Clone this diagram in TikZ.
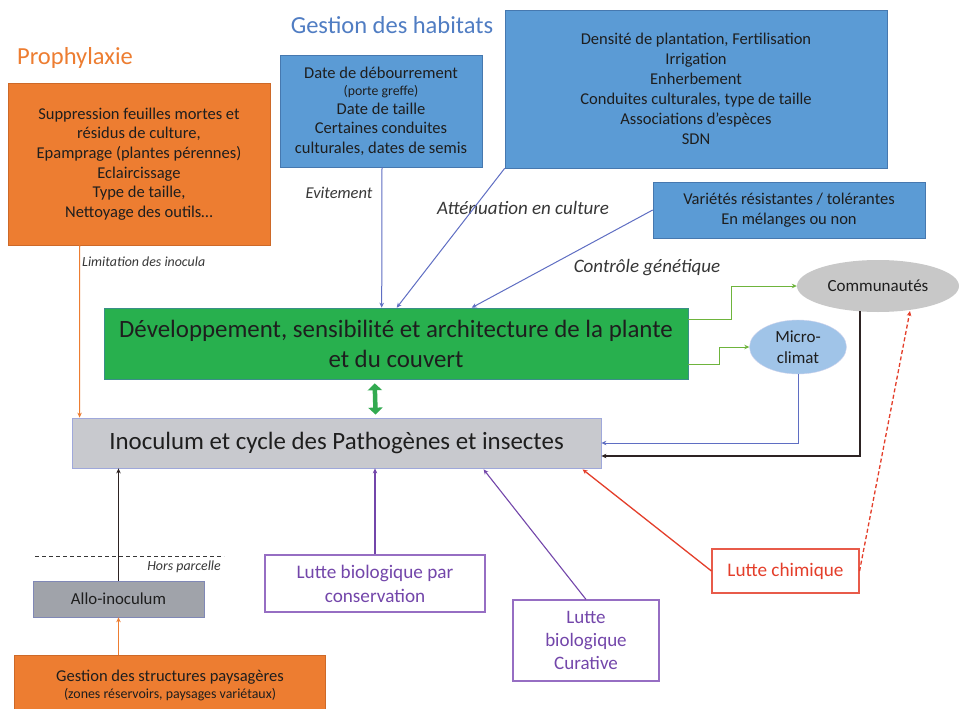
\documentclass[tikz,border=0pt]{standalone}
\usepackage{fontspec}
\setmainfont{Carlito}
\usetikzlibrary{arrows.meta,shapes.geometric,calc}
\definecolor{orng}{RGB}{237,125,49}
\definecolor{orngd}{RGB}{205,105,40}
\definecolor{bluebox}{RGB}{91,155,213}
\definecolor{blueborder}{RGB}{70,120,175}
\definecolor{bluetitle}{RGB}{80,125,195}
\definecolor{greenbox}{RGB}{40,176,78}
\definecolor{greenarr}{RGB}{110,180,60}
\definecolor{greendbl}{RGB}{50,170,80}
\definecolor{greyino}{RGB}{200,201,206}
\definecolor{greyallo}{RGB}{160,163,170}
\definecolor{greycomm}{RGB}{200,200,200}
\definecolor{microblue}{RGB}{160,196,232}
\definecolor{arrblue}{RGB}{95,110,195}
\definecolor{purp}{RGB}{115,70,170}
\definecolor{purpbox}{RGB}{150,110,195}
\definecolor{redc}{RGB}{228,62,42}
\definecolor{txtd}{RGB}{30,30,30}
\definecolor{txtl}{RGB}{55,55,55}
\definecolor{blk}{RGB}{45,35,35}
\tikzset{
  base/.style={rectangle, inner sep=0pt, align=center, text=txtd},
  obox/.style={base, fill=orng, draw=orngd, line width=0.6pt},
  bbox/.style={base, fill=bluebox, draw=blueborder, line width=0.6pt},
  pbox/.style={base, fill=white, draw=purpbox, line width=1.1pt, text=purp},
  rbox/.style={base, fill=white, draw=redc!85, line width=1.1pt, text=redc},
  lab/.style={inner sep=0pt, text=txtl, font=\itshape\fontsize{19}{22}\selectfont},
  smalllab/.style={inner sep=0pt, text=txtl, font=\itshape\fontsize{13.9}{16}\selectfont},
  tip/.style={-{Stealth[length=5pt,width=4.5pt]}},
  blarr/.style={tip, draw=arrblue, line width=1pt},
  grarr/.style={tip, draw=greenarr, line width=1pt},
  bkarr/.style={tip, draw=blk, line width=1.2pt},
  orarr/.style={tip, draw=orng, line width=1.1pt},
  parr/.style={tip, draw=purp, line width=1.1pt},
  rarr/.style={tip, draw=redc, line width=1.3pt},
}
\begin{document}
\begin{tikzpicture}[x=1pt,y=-1pt]
\useasboundingbox[fill=white] (0,0) rectangle (959,709);

% titles
\node[inner sep=0pt, text=orng, font=\fontsize{24.5}{28}\selectfont] (tproph) at (75,58) {Prophylaxie};
\node[inner sep=0pt, text=bluetitle, font=\fontsize{24.5}{28}\selectfont] (thab) at (392,25) {Gestion des habitats};

% boxes
\node[obox, minimum width=262, minimum height=162, font=\fontsize{16.5}{19.6}\selectfont] (proph) at (139,164)
  {Suppression feuilles mortes et\\ résidus de culture,\\ Epamprage (plantes pérennes)\\ Eclaircissage\\ Type de taille,\\ Nettoyage des outils…};
\node[bbox, minimum width=202, minimum height=112, font=\fontsize{16.5}{19.5}\selectfont] (date) at (381,111)
  {Date de débourrement\\[-2pt] {\fontsize{13.8}{14}\selectfont (porte greffe)}\\[-1pt] Date de taille\\ Certaines conduites\\ culturales, dates de semis};
\node[bbox, minimum width=382, minimum height=158, font=\fontsize{16.5}{20}\selectfont] (dens) at (696,89)
  {Densité de plantation, Fertilisation\\ Irrigation\\ Enherbement\\ Conduites culturales, type de taille\\ Associations d’espèces\\ SDN};
\node[bbox, minimum width=272, minimum height=56, font=\fontsize{16.5}{20}\selectfont] (var) at (789,210)
  {Variétés résistantes / tolérantes\\ En mélanges ou non};

\node[base, fill=greenbox, draw=blueborder!60!greenbox, line width=0.6pt, minimum width=584, minimum height=71, font=\fontsize{24.9}{30}\selectfont] (green) at (396,343.5)
  {Développement, sensibilité et architecture de la plante\\ et du couvert};
\node[base, fill=greyino, draw=arrblue!60, line width=0.8pt, minimum width=529, minimum height=50, font=\fontsize{24.9}{28}\selectfont] (ino) at (336.5,443)
  {Inoculum et cycle des Pathogènes et insectes};

\node[ellipse, fill=greycomm, inner sep=0pt, minimum width=162, minimum height=52, text=txtd, font=\fontsize{17}{19}\selectfont] (comm) at (878,286) {Communautés};
\node[ellipse, fill=microblue, draw=arrblue!30, line width=0.4pt, inner sep=0pt, minimum width=97, minimum height=54, align=center, text=txtd, font=\fontsize{17}{21}\selectfont] (micro) at (798,347) {Micro-\\climat};

\node[base, fill=greyallo, draw=arrblue!50!greyallo, line width=0.6pt, minimum width=171, minimum height=36, font=\fontsize{16.8}{19}\selectfont] (allo) at (118.5,599) {Allo-inoculum};
\node[obox, minimum width=311, minimum height=60, font=\fontsize{16.5}{19}\selectfont] (gsp) at (170,685)
  {Gestion des structures paysagères\\[-2pt] {\fontsize{13.9}{15}\selectfont (zones réservoirs, paysages variétaux)}};

\node[pbox, minimum width=220, minimum height=57, font=\fontsize{19.2}{24}\selectfont] (cons) at (375,583.5)
  {Lutte biologique par\\ conservation};
\node[pbox, minimum width=146, minimum height=81, font=\fontsize{19}{23}\selectfont] (cur) at (586,640.5)
  {Lutte\\ biologique\\ Curative};
\node[rbox, minimum width=147, minimum height=44, font=\fontsize{19.2}{22}\selectfont] (chim) at (785.5,571) {Lutte chimique};

% labels
\node[lab, font=\itshape\fontsize{16.5}{19}\selectfont] (levit) at (339,193) {Evitement};
\node[lab] (latt) at (523,208) {Atténuation en culture};
\node[lab] (lgen) at (647,268) {Contrôle génétique};
\node[smalllab, anchor=west] (llim) at (82,262) {Limitation des inocula};
\node[smalllab, anchor=east] (lhors) at (221,567) {Hors parcelle};

% hors parcelle dashed line
\coordinate (hp1) at (35,556);
\coordinate (hp2) at (224,556);
\draw[dashed, dash pattern=on 4pt off 3pt, line width=0.9pt, draw=txtl] (hp1) -- (hp2);

% connectors
\draw[orarr] ($(proph.south west)+(72,0)$) -- ($(ino.north west)+(8,0)$);
\draw[blarr] ($(date.south)+(1,0)$) -- ($(green.north west)+(278,0)$);
\draw[blarr] (dens.south west) -- ($(green.north west)+(293,0)$);
\draw[blarr] (var.west) -- ($(green.north west)+(368,0)$);

\draw[grarr] ($(green.north east)+(0,12)$) -- ++(43,0) |- (comm.west);
\draw[grarr] ($(green.south east)+(0,-15)$) -- ++(31,0) |- (micro.west);

\draw[greendbl, line width=4.5pt, {Triangle[length=7pt,width=14pt]}-{Triangle[length=7pt,width=14pt]}] ($(green.south west)+(271,4)$) -- ($(ino.north west)+(304,-3)$);

\draw[blarr] (micro.south) |- (ino.east);
\draw[bkarr] ($(comm.center)+(-18,25.3)$) |- ($(ino.east)+(0,13)$);

\draw[bkarr] (allo.north) -- (allo.north |- ino.south);
\draw[orarr] (allo.south |- gsp.north) -- (allo.south);

\draw[parr] (cons.north) -- (cons.north |- ino.south);
\draw[parr] (cur.north) -- ($(ino.south west)+(412,1)$);
\draw[rarr] (chim.west) -- ($(ino.south west)+(511,1)$);
\draw[rarr, dashed, dash pattern=on 4pt off 2.5pt] (chim.east) -- ($(comm.center)+(32,25)$);
\end{tikzpicture}
\end{document}
